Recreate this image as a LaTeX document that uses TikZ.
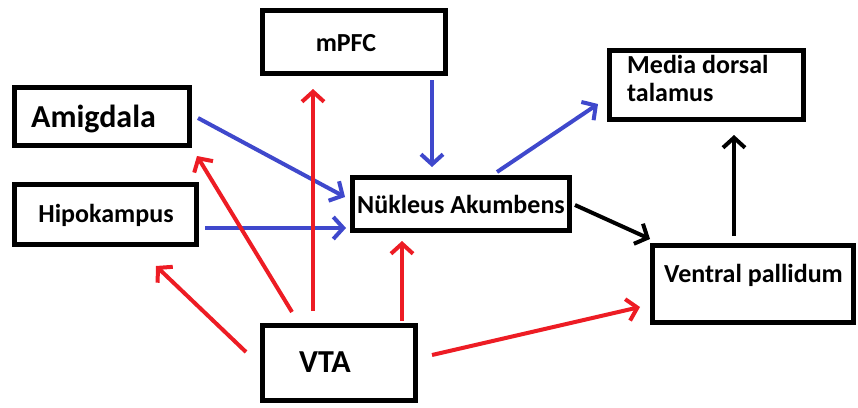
\documentclass[tikz,border=0pt]{standalone}
\usepackage{fontspec}
\setmainfont{Carlito}
\usetikzlibrary{arrows.meta}
\definecolor{pred}{RGB}{237,28,36}
\definecolor{pblue}{RGB}{63,72,204}
\tikzset{
  box/.style={draw=black, line width=5pt, rectangle, inner sep=0pt, font=\bfseries\fontsize{26}{28}\selectfont},
  arr/.style={line width=4pt, -{Straight Barb[length=10pt,width=22pt]}},
  redarr/.style={arr, draw=pred},
  bluearr/.style={arr, draw=pblue},
  blackarr/.style={arr, draw=black}
}
\begin{document}
\begin{tikzpicture}[x=1pt,y=-1pt]
\useasboundingbox (0,0) rectangle (858,407);
% boxes
\node[box, minimum width=183pt, minimum height=63pt] (mpfc) at (354,42) {};
\node[font=\bfseries\fontsize{26}{28}\selectfont] (mpfct) at (346,43) {mPFC};
\node[box, minimum width=175pt, minimum height=58pt] (amig) at (102,116.5) {};
\node[font=\bfseries\fontsize{32}{34}\selectfont, anchor=west, inner sep=0pt] (amigt) at (31,119) {Amigdala};
\node[box, minimum width=182pt, minimum height=60pt] (hipo) at (105.5,214.5) {};
\node[font=\bfseries\fontsize{26}{28}\selectfont] (hipot) at (106,215) {Hipokampus};
\node[box, minimum width=217pt, minimum height=53pt] (na) at (461,204) {};
\node[font=\bfseries\fontsize{26}{28}\selectfont] (nat) at (461,204) {Nükleus Akumbens};
\node[box, minimum width=153pt, minimum height=75pt] (vta) at (339,363) {};
\node[font=\bfseries\fontsize{32}{34}\selectfont] (vtat) at (325,362) {VTA};
\node[box, minimum width=194pt, minimum height=69pt] (mdt) at (706.5,85) {};
\node[font=\bfseries\fontsize{26}{28}\selectfont, anchor=north west, inner sep=0pt, align=left] (mdtt) at (627,55) {Media dorsal\\talamus};
\node[box, minimum width=201pt, minimum height=77pt] (vp) at (753,284) {};
\node[font=\bfseries\fontsize{26}{28}\selectfont, anchor=west, inner sep=0pt] (vpt) at (664,275) {Ventral pallidum};
% arrow end points
\coordinate (a1s) at (198,118); \coordinate (a1e) at (345,197);
\coordinate (a2s) at (205,228); \coordinate (a2e) at (346,228);
\coordinate (a3s) at (432,80);  \coordinate (a3e) at (432,167);
\coordinate (a4s) at (497,172); \coordinate (a4e) at (598,104);
\coordinate (a5s) at (575,205); \coordinate (a5e) at (650,239);
\coordinate (a6s) at (734,236); \coordinate (a6e) at (734,135);
\coordinate (r1s) at (313,311); \coordinate (r1e) at (313,89);
\coordinate (r2s) at (292,312); \coordinate (r2e) at (197,156);
\coordinate (r3s) at (246,352); \coordinate (r3e) at (156,266);
\coordinate (r4s) at (402,321); \coordinate (r4e) at (402,241);
\coordinate (r5s) at (432,355); \coordinate (r5e) at (640,307);
% blue
\draw[bluearr] (a1s) -- (a1e);
\draw[bluearr] (a2s) -- (a2e);
\draw[bluearr] (a3s) -- (a3e);
\draw[bluearr] (a4s) -- (a4e);
% black
\draw[blackarr] (a5s) -- (a5e);
\draw[blackarr] (a6s) -- (a6e);
% red
\draw[redarr] (r1s) -- (r1e);
\draw[redarr] (r2s) -- (r2e);
\draw[redarr] (r3s) -- (r3e);
\draw[redarr] (r4s) -- (r4e);
\draw[redarr] (r5s) -- (r5e);
\end{tikzpicture}
\end{document}
